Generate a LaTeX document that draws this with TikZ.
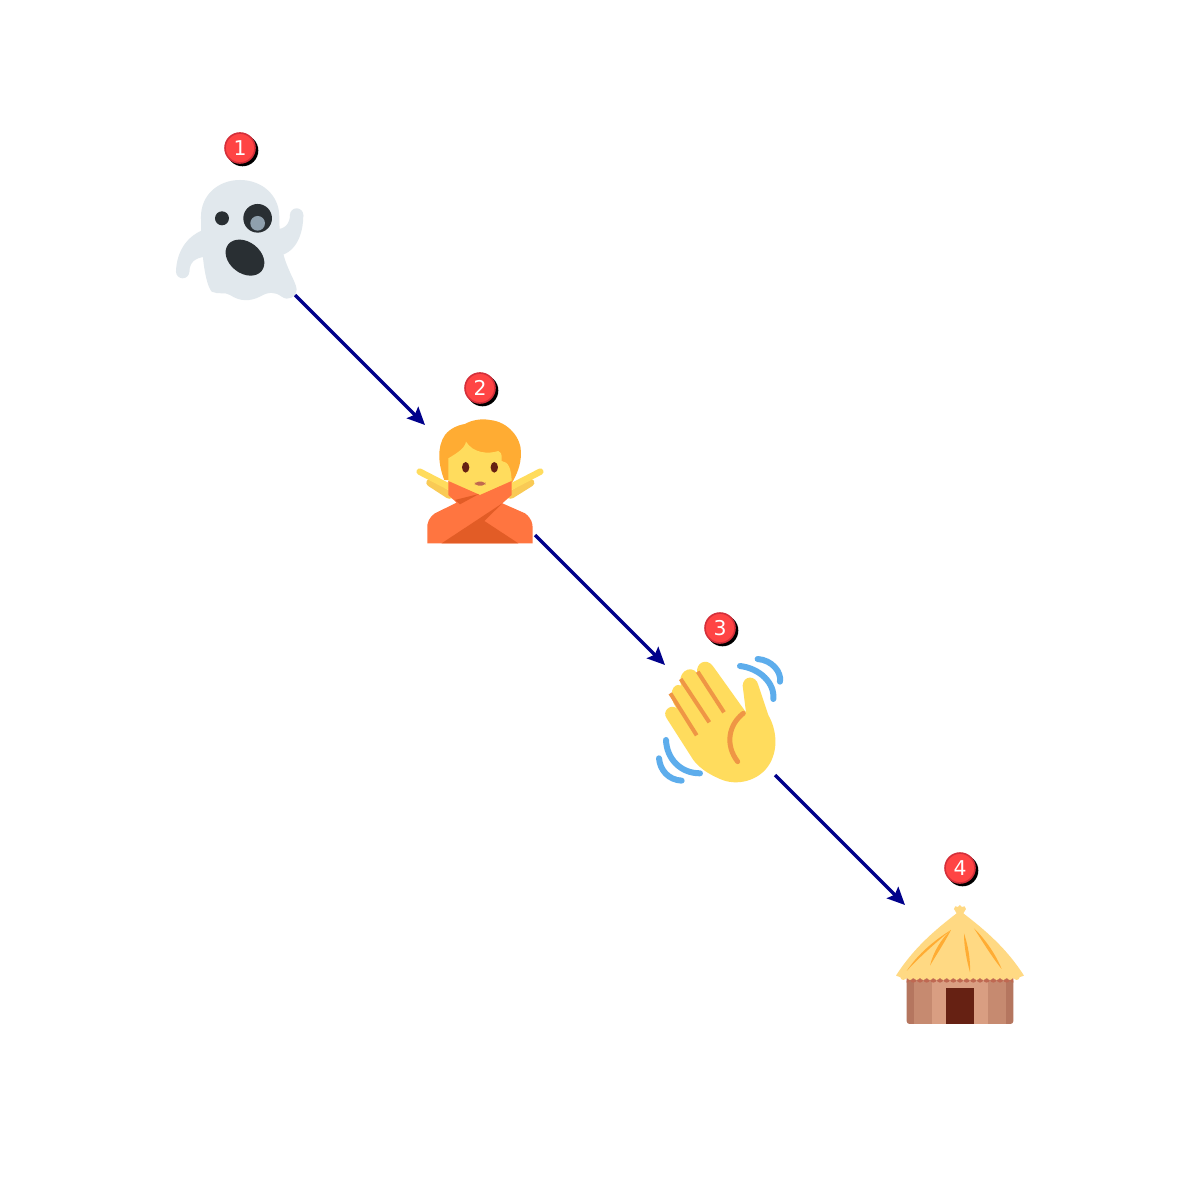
\documentclass[tikz,border=0pt]{standalone}
\usepackage{fontspec}
\setmainfont{DejaVu Sans}
\usetikzlibrary{arrows.meta}
\definecolor{ghost}{HTML}{E1E8ED}
\definecolor{ink}{HTML}{292F33}
\definecolor{pupil}{HTML}{8FA0AD}
\definecolor{hair}{HTML}{FFAC33}
\definecolor{skin}{HTML}{FFDC5D}
\definecolor{skindark}{HTML}{F9CA55}
\definecolor{shirt}{HTML}{FF7540}
\definecolor{shirtdark}{HTML}{E25C26}
\definecolor{crease}{HTML}{EF9645}
\definecolor{wave}{HTML}{5DADEC}
\definecolor{straw}{HTML}{FFD983}
\definecolor{wallout}{HTML}{B5765F}
\definecolor{wallmid}{HTML}{C68A70}
\definecolor{wallin}{HTML}{D99E82}
\definecolor{drip}{HTML}{BF6952}
\definecolor{door}{HTML}{662113}
\definecolor{lips}{HTML}{C1694F}
\definecolor{link}{HTML}{00008B}
\definecolor{badgefill}{HTML}{FF4444}
\definecolor{badgeedge}{HTML}{D42F3A}
\tikzset{
  slot/.style={inner sep=0pt,outer sep=0pt,minimum size=11mm},
  badge/.style={circle,inner sep=0pt,outer sep=0pt,minimum size=3mm,fill=badgefill,draw=badgeedge,line width=0.16mm,text=white,font=\fontsize{5.8}{6}\selectfont},
  badgeshadow/.style={circle,inner sep=0pt,minimum size=3.16mm,fill=black},
  flow/.style={draw=link,line width=0.35mm,-{Stealth[length=1.75mm,width=1.6mm,inset=0.3mm]}},
  zoomed/.style={x=0.03333mm,y=-0.03333mm},
  limb/.style={line cap=round,line join=round},
}
\begin{document}
\begin{tikzpicture}[x=0.1mm,y=-0.1mm]
\useasboundingbox (0,0) rectangle (1200,1200);
\fill[white] (0,0) rectangle (1200,1200);

% ghost
\begin{scope}[shift={(160,120)},zoomed]
\fill[ghost] (48,455) .. controls (50,390) and (85,345) .. (135,328) -- (135,410)
  .. controls (105,415) and (90,425) .. (88,455) -- cycle;
\fill[ghost] (68,455) circle [radius=20];
\fill[ghost] (430,285) .. controls (430,340) and (410,395) .. (360,407) -- (345,327)
  .. controls (375,330) and (390,310) .. (390,285) -- cycle;
\fill[ghost] (410,285) circle [radius=20];
\fill[ghost] (123,290) .. controls (123,225) and (175,180) .. (240,180)
  .. controls (305,180) and (358,225) .. (358,290)
  .. controls (358,350) and (365,400) .. (385,445)
  .. controls (395,470) and (410,495) .. (410,510)
  .. controls (410,530) and (385,545) .. (365,530)
  .. controls (345,515) and (325,515) .. (300,530)
  .. controls (270,545) and (240,545) .. (210,525)
  .. controls (195,515) and (175,525) .. (155,515)
  .. controls (135,490) and (123,400) .. (123,290) -- cycle;
\fill[ink] (186,295) circle [radius=21];
\fill[ink] (293,295) circle [radius=43];
\fill[pupil] (293,310) circle [radius=22];
\fill[ink,rotate around={-38:(255,413)}] (255,413) ellipse [x radius=64,y radius=47];
\end{scope}

% person
\begin{scope}[shift={(415,415)},zoomed]
\fill[hair] (88,195) .. controls (70,150) and (65,95) .. (90,60)
  .. controls (105,40) and (130,30) .. (150,27)
  .. controls (170,15) and (200,10) .. (225,15)
  .. controls (280,20) and (320,70) .. (318,115)
  .. controls (318,150) and (305,180) .. (290,205) -- cycle;
\fill[skin] (100,250) -- (100,130) .. controls (125,115) and (150,100) .. (153,80)
  .. controls (175,115) and (220,118) .. (250,108)
  .. controls (265,115) and (258,130) .. (260,138)
  .. controls (280,140) and (290,160) .. (290,205) -- (290,250) -- cycle;
\fill[door] (152,157) ellipse [x radius=11,y radius=16];
\fill[door] (238,157) ellipse [x radius=11,y radius=16];
\fill[lips,rounded corners=1pt] (180,200) rectangle (211,212);
\draw[skindark,limb,line width=0.75mm] (45,203) -- (102,240);
\draw[skindark,limb,line width=0.75mm] (347,203) -- (288,240);
\draw[skin,limb,line width=0.65mm] (14,170) -- (105,217);
\draw[skin,limb,line width=0.65mm] (376,170) -- (285,217);
\fill[shirt] (37,385) -- (37,330) .. controls (40,310) and (55,295) .. (70,290)
  -- (125,263) -- (100,240) -- (100,198) -- (195,240) -- (290,198) -- (290,240) -- (262,265)
  -- (330,295) .. controls (350,310) and (353,325) .. (353,340) -- (353,385) -- cycle;
\fill[shirtdark] (80,385) -- (262,265) -- (208,318) -- (310,385) -- cycle;
\fill[shirtdark] (120,255) -- (192,237) -- (135,268) -- cycle;
\end{scope}

% waving hand
\begin{scope}[shift={(660,655)},zoomed]
\draw[wave,limb,line width=0.6mm] (240,33) .. controls (300,40) and (345,85) .. (340,132);
\draw[wave,limb,line width=0.6mm] (293,12) .. controls (335,15) and (365,50) .. (360,80);
\draw[wave,limb,line width=0.6mm] (18,255) .. controls (20,310) and (60,355) .. (120,355);
\draw[wave,limb,line width=0.6mm] (-3,310) .. controls (0,345) and (25,375) .. (65,377);
\fill[skin] (20,190) .. controls (5,170) and (30,145) .. (50,160)
  .. controls (20,120) and (40,80) .. (63,92)
  .. controls (50,55) and (90,25) .. (112,55)
  .. controls (105,25) and (140,5) .. (160,35)
  -- (258,172) -- (248,92) .. controls (250,60) and (288,60) .. (295,90)
  -- (325,180) .. controls (350,225) and (355,280) .. (330,325)
  .. controls (300,378) and (230,395) .. (180,372)
  .. controls (140,355) and (115,335) .. (100,315) -- cycle;
\draw[crease,line width=0.4mm] (113,50) -- (192,172);
\draw[crease,line width=0.4mm] (62,72) -- (148,202);
\draw[crease,line width=0.4mm] (31,115) -- (110,241);
\draw[crease,limb,line width=0.5mm] (250,175) .. controls (205,210) and (195,270) .. (233,320);
\end{scope}

% hut
\begin{scope}[shift={(880,845)},zoomed]
\fill[wallout,rounded corners=0.8pt] (80,400) rectangle (400,537);
\fill[wallmid] (102,400) rectangle (378,537);
\fill[wallin] (155,400) rectangle (325,537);
\fill[door] (197,430) rectangle (283,537);
\begin{scope}
\clip (80,390) rectangle (400,420);
\foreach \bx in {80,100,...,400} \fill[drip] (\bx,403) circle [radius=10];
\end{scope}
\foreach \bx in {70,90,...,410} \fill[straw] (\bx,396) circle [radius=9];
\fill[straw,line join=round] (48,392) .. controls (100,310) and (165,255) .. (230,205)
  -- (222,192) -- (226,184) -- (234,186) -- (240,180) -- (246,186) -- (254,184) -- (258,192) -- (250,205)
  .. controls (315,255) and (380,310) .. (432,392)
  -- (410,400) -- (70,400) -- cycle;
\fill[hair] (80,378) .. controls (115,325) and (165,285) .. (213,255) .. controls (165,295) and (120,335) .. (80,378) -- cycle;
\fill[hair] (150,362) .. controls (160,320) and (185,280) .. (213,255) .. controls (195,290) and (172,325) .. (150,362) -- cycle;
\fill[hair] (252,265) .. controls (264,300) and (272,345) .. (270,382) .. controls (260,345) and (252,305) .. (252,265) -- cycle;
\fill[hair] (282,250) .. controls (318,285) and (348,330) .. (365,372) .. controls (335,335) and (308,290) .. (282,250) -- cycle;
\end{scope}

% anchors and connectors
\node[slot] (n1) at (240,240) {};
\node[slot] (n2) at (480,480) {};
\node[slot] (n3) at (720,720) {};
\node[slot] (n4) at (960,960) {};
\draw[flow] (n1.south east) -- (n2.north west);
\draw[flow] (n2.south east) -- (n3.north west);
\draw[flow] (n3.south east) -- (n4.north west);

% badges
\node[badgeshadow] at (242.5,150.5) {};
\node[badgeshadow] at (482.5,390.5) {};
\node[badgeshadow] at (722.5,630.5) {};
\node[badgeshadow] at (962.5,870.5) {};
\node[badge] (b1) at (240,148) {1};
\node[badge] (b2) at (480,388) {2};
\node[badge] (b3) at (720,628) {3};
\node[badge] (b4) at (960,868) {4};
\end{tikzpicture}
\end{document}
